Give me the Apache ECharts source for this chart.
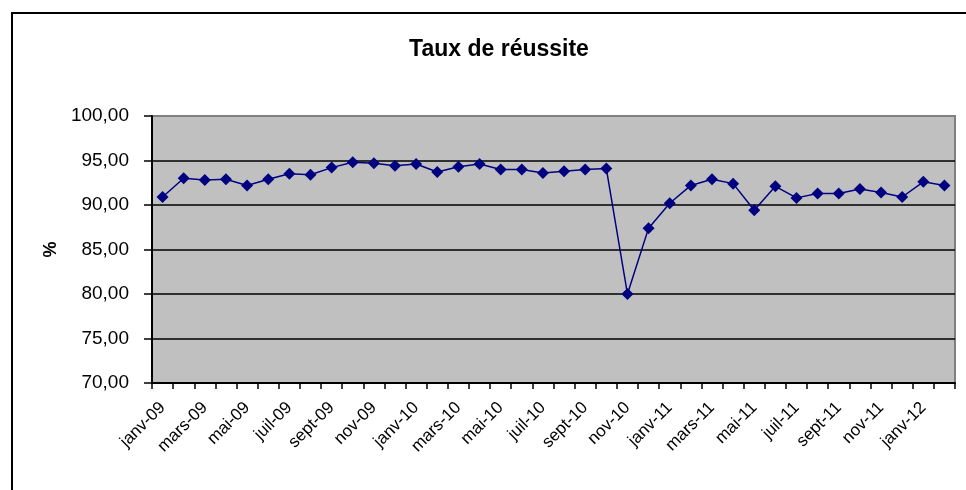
<!DOCTYPE html>
<html>
<head>
<meta charset="utf-8">
<script src="https://cdn.jsdelivr.net/npm/echarts@6/dist/echarts.min.js"></script>
<style>
  html, body { margin: 0; padding: 0; background: #fff; }
  #chart { width: 966px; height: 490px; }
</style>
</head>
<body>
<div id="chart"></div>
<script>
// mois de janv-09 a fevr-12
var categories = [
  'janv-09', 'févr-09', 'mars-09', 'avr-09', 'mai-09', 'juin-09', 'juil-09', 'août-09', 'sept-09', 'oct-09', 'nov-09', 'déc-09',
  'janv-10', 'févr-10', 'mars-10', 'avr-10', 'mai-10', 'juin-10', 'juil-10', 'août-10', 'sept-10', 'oct-10', 'nov-10', 'déc-10',
  'janv-11', 'févr-11', 'mars-11', 'avr-11', 'mai-11', 'juin-11', 'juil-11', 'août-11', 'sept-11', 'oct-11', 'nov-11', 'déc-11',
  'janv-12', 'févr-12'
];

var tauxReussite = [
  90.9, 93.0, 92.8, 92.9, 92.2, 92.9, 93.5, 93.4, 94.2, 94.8, 94.7, 94.4,
  94.6, 93.7, 94.3, 94.6, 94.0, 94.0, 93.6, 93.8, 94.0, 94.1, 80.0, 87.4,
  90.2, 92.2, 92.9, 92.4, 89.4, 92.1, 90.8, 91.3, 91.3, 91.8, 91.4, 90.9,
  92.6, 92.2
];

var yTicks = [70, 75, 80, 85, 90, 95, 100];

var chart = echarts.init(document.getElementById('chart'));

var option = {
  animation: false,
  textStyle: { fontFamily: 'Liberation Sans, Arial, sans-serif', color: '#000' },
  title: {
    text: 'Taux de réussite',
    left: 494,
    top: 33,
    textAlign: 'center',
    textStyle: { fontSize: 23, fontWeight: 'bold', color: '#000' }
  },
  graphic: [{
    // cadre du graphique
    type: 'rect',
    shape: { x: 12, y: 13, width: 1000, height: 520 },
    style: { fill: 'none', stroke: '#000', lineWidth: 2 },
    z: 100
  }],
  grid: {
    left: 152,
    right: 11,
    top: 116,
    bottom: 107,
    show: true,
    backgroundColor: '#c0c0c0',
    borderColor: '#808080',
    borderWidth: 2
  },
  xAxis: {
    type: 'category',
    data: categories,
    boundaryGap: true,
    axisLine: { lineStyle: { color: '#000', width: 2 } },
    axisTick: { show: true, interval: 0, length: 6, inside: false, lineStyle: { color: '#000', width: 1.5 } },
    axisLabel: {
      interval: 1,
      rotate: 45,
      fontSize: 17,
      color: '#000',
      margin: 22
    },
    splitLine: { show: false }
  },
  yAxis: {
    type: 'value',
    min: yTicks[0],
    max: yTicks[yTicks.length - 1],
    interval: 5,
    name: '%',
    nameLocation: 'middle',
    nameRotate: 90,
    nameGap: 90,
    nameTextStyle: { fontSize: 18, fontWeight: 'bold', color: '#000' },
    axisLine: { show: true, lineStyle: { color: '#000', width: 2 } },
    axisTick: { show: true, length: 8, lineStyle: { color: '#000', width: 1.5 } },
    axisLabel: {
      fontSize: 19,
      color: '#000',
      margin: 23,
      formatter: function (v) { return v.toFixed(2).replace('.', ','); }
    },
    splitLine: {
      show: true,
      lineStyle: { color: ['#000', '#000', '#000', '#000', '#000', '#000', '#808080'], width: 1.5 }
    }
  },
  series: [{
    name: 'Taux de réussite',
    type: 'line',
    data: tauxReussite,
    symbol: 'diamond',
    symbolSize: 12,
    itemStyle: { color: '#000080' },
    lineStyle: { color: '#000080', width: 1.5 }
  }]
};

chart.setOption(option);
</script>
</body>
</html>
